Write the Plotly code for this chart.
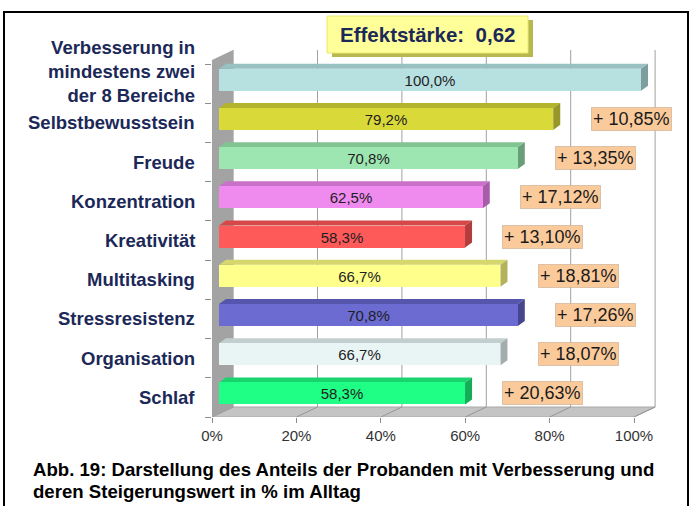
import plotly.graph_objects as go

# ---------------- data ----------------
categories = ["Verbesserung in<br>mindestens zwei<br>der 8 Bereiche", "Selbstbewusstsein", "Freude",
              "Konzentration", "Kreativität", "Multitasking", "Stressresistenz", "Organisation", "Schlaf"]
shares = [100.0, 79.2, 70.8, 62.5, 58.3, 66.7, 70.8, 66.7, 58.3]
gains = [None, 10.85, 13.35, 17.12, 13.10, 18.81, 17.26, 18.07, 20.63]
effect_size = 0.62
x_ticks = [0, 20, 40, 60, 80, 100]
caption_lines = ["Abb. 19: Darstellung des Anteils der Probanden mit Verbesserung und",
                 "deren Steigerungswert in % im Alltag"]

front_colors = ["#b7e1e1", "#d9d93a", "#9de6b1", "#ef8bef", "#ff5a5a", "#ffff8c", "#6b6bd1", "#e9f5f5", "#1fff85"]
top_colors = ["#98c2c2", "#b3b32e", "#80c492", "#c970c9", "#d64848", "#d6d66e", "#5555ad", "#c3cfcf", "#19d46d"]
side_colors = ["#7d9e9e", "#96962a", "#6a9e78", "#a85ca8", "#b33c3c", "#b3b35c", "#46468f", "#a3adad", "#15ad5a"]

W, H = 692, 506
FONT = "Liberation Sans, Arial, sans-serif"
NAVY = "#1b2858"

# geometry (front plane of the 3D box)
PXU = 4.22            # px per % unit
X0 = 212              # px of 0 %
XMAX = 106
x_dom = [X0 / W, (X0 + XMAX * PXU) / W]
Y_TOP_PX, Y_BOT_PX = 50, 417
y_range = [8.5, -0.857]
y_dom = [(H - Y_BOT_PX) / H, (H - Y_TOP_PX) / H]
DX, DY = 5.0, 0.255   # full depth offset (x units, y units upward)
B_OX, B_OY = 1.66, 0.10
B_W = 0.56
B_DX, B_DY = 1.66, 0.128

n = len(categories)
pos = list(range(n))
ymin_front = -0.5 - 0.1
ymax_front = n - 0.5


def path(pts):
    return "M " + " L ".join(f"{x},{y}" for x, y in pts) + " Z"


shapes = []
# back wall
shapes.append(dict(type="path", xref="x", yref="y", layer="below",
                   path=path([(DX, ymin_front - DY), (100 + DX, ymin_front - DY),
                              (100 + DX, ymax_front - DY), (DX, ymax_front - DY)]),
                   fillcolor="white", line=dict(width=0)))
# back wall grid lines
for t in x_ticks:
    shapes.append(dict(type="line", xref="x", yref="y", layer="below",
                       x0=t + DX, x1=t + DX, y0=ymin_front - DY, y1=ymax_front - DY,
                       line=dict(color="#a0a0a0", width=1)))
# floor
shapes.append(dict(type="path", xref="x", yref="y", layer="below",
                   path=path([(0, ymax_front), (100, ymax_front), (100 + DX, ymax_front - DY), (DX, ymax_front - DY)]),
                   fillcolor="#c4c4c4", line=dict(color="#a8a8a8", width=1)))
for t in x_ticks:
    shapes.append(dict(type="line", xref="x", yref="y", layer="below",
                       x0=t, x1=t + DX, y0=ymax_front, y1=ymax_front - DY,
                       line=dict(color="#959595", width=1)))
# left wall
shapes.append(dict(type="path", xref="x", yref="y", layer="below",
                   path=path([(0, ymin_front), (DX, ymin_front - DY), (DX, ymax_front - DY), (0, ymax_front)]),
                   fillcolor="#a3a3a3", line=dict(width=0)))

# bar top and side faces
for i, v in enumerate(shares):
    yc = pos[i] - B_OY
    yt, yb = yc - B_W / 2, yc + B_W / 2
    x1 = B_OX + v
    shapes.append(dict(type="path", xref="x", yref="y", layer="below",
                       path=path([(B_OX, yt), (x1, yt), (x1 + B_DX, yt - B_DY), (B_OX + B_DX, yt - B_DY)]),
                       fillcolor=top_colors[i], line=dict(width=0)))
    shapes.append(dict(type="path", xref="x", yref="y", layer="below",
                       path=path([(x1, yt), (x1 + B_DX, yt - B_DY), (x1 + B_DX, yb - B_DY), (x1, yb)]),
                       fillcolor=side_colors[i], line=dict(width=0)))

# effect size box (shadow + box)
bx0, bx1, by0, by1 = 327, 528, 16, 53
shapes.append(dict(type="rect", xref="paper", yref="paper", layer="above",
                   x0=(bx0 + 5) / W, x1=(bx1 + 5) / W, y0=1 - (by1 + 4) / H, y1=1 - (by0 + 4) / H,
                   fillcolor="#b8b84e", line=dict(width=0)))
shapes.append(dict(type="rect", xref="paper", yref="paper", layer="above",
                   x0=bx0 / W, x1=bx1 / W, y0=1 - by1 / H, y1=1 - by0 / H,
                   fillcolor="#ffff99", line=dict(color="#e8e870", width=1)))
# outer frame
shapes.append(dict(type="rect", xref="paper", yref="paper", layer="above",
                   x0=4 / W, x1=688 / W, y0=-0.05, y1=1 - 12 / H,
                   fillcolor="rgba(0,0,0,0)", line=dict(color="black", width=2)))

fig = go.Figure()
fig.add_trace(go.Bar(
    y=[p - B_OY for p in pos], x=shares, base=[B_OX] * n, orientation="h", width=B_W,
    marker=dict(color=front_colors, line=dict(width=0)),
    text=[f"{v:.1f}".replace(".", ",") + "%" for v in shares],
    textposition="inside", insidetextanchor="middle", textangle=0, constraintext="none",
    textfont=dict(family=FONT, size=15, color="#1e1e1e"),
    hoverinfo="skip", showlegend=False,
))

annotations = []
# category labels
for i, c in enumerate(categories):
    annotations.append(dict(xref="paper", yref="y", x=197 / W, y=pos[i], xanchor="right", yanchor="middle",
                            text=c, showarrow=False, align="right",
                            yshift=12 if "<br>" in c else 0,
                            font=dict(family=FONT, size=18.5, color=NAVY, weight="bold")))
# gain boxes
for i, g in enumerate(gains):
    if g is None:
        continue
    txt = "+ " + f"{g:.2f}".replace(".", ",") + "%"
    annotations.append(dict(xref="x", yref="y", x=shares[i] + 10.5, y=pos[i] - B_OY,
                            xanchor="left", yanchor="middle", text=txt, showarrow=False, borderpad=1,
                            bgcolor="#fbca9b", bordercolor="rgba(200,170,140,0.6)", borderwidth=1,
                            font=dict(family=FONT, size=18, color="#1a1a1a")))
# effect size text
annotations.append(dict(xref="paper", yref="paper", x=(bx0 + bx1) / 2 / W, y=1 - (by0 + by1) / 2 / H,
                        xanchor="center", yanchor="middle", showarrow=False,
                        text=f"Effektstärke:  {effect_size:.2f}".replace(".", ","),
                        font=dict(family=FONT, size=20.5, color=NAVY, weight="bold")))
# caption
for k, line in enumerate(caption_lines):
    annotations.append(dict(xref="paper", yref="paper", x=31 / W, y=1 - (469 + 22 * k) / H,
                            xanchor="left", yanchor="middle", showarrow=False, text=line,
                            font=dict(family=FONT, size=18.6, color="black", weight="bold")))

fig.update_layout(
    template="none",
    width=W, height=H, autosize=False,
    margin=dict(l=0, r=0, t=0, b=0, pad=0),
    paper_bgcolor="white", plot_bgcolor="white",
    shapes=shapes, annotations=annotations,
    bargap=0, hovermode=False,
    xaxis=dict(domain=x_dom, range=[0, XMAX], tickvals=x_ticks, ticktext=[f"{t}%" for t in x_ticks],
               ticks="outside", ticklen=5, tickcolor="#8c8c8c", showgrid=False, zeroline=False,
               showline=False, automargin=False,
               tickfont=dict(family=FONT, size=15, color="#333333"), fixedrange=True),
    yaxis=dict(domain=y_dom, range=y_range, tickvals=[b - 0.5 for b in range(n + 1)],
               ticks="outside", ticklen=6, tickcolor="#8c8c8c", showticklabels=False, automargin=False,
               showgrid=False, zeroline=False, showline=False, fixedrange=True),
)

fig.write_html("out.html", config={"displayModeBar": False},
               post_script="document.body.style.margin='0';document.body.style.padding='0';")
